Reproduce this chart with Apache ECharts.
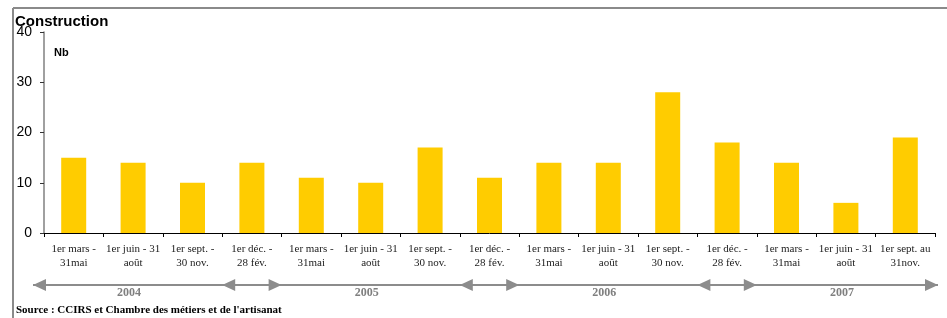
<!DOCTYPE html>
<html>
<head>
<meta charset="utf-8">
<script src="https://cdn.jsdelivr.net/npm/echarts@6/dist/echarts.min.js"></script>
<style>
  html, body { margin: 0; padding: 0; background: #fff; }
  #main { width: 947px; height: 318px; }
</style>
</head>
<body>
<div id="main"></div>
<script>
// périodes (trimestres) affichées sur l'axe
const categories = [
  '1er mars -\n31mai', '1er juin - 31\naoût', '1er sept. -\n30 nov.', '1er déc. -\n28 fév.',
  '1er mars -\n31mai', '1er juin - 31\naoût', '1er sept. -\n30 nov.', '1er déc. -\n28 fév.',
  '1er mars -\n31mai', '1er juin - 31\naoût', '1er sept. -\n30 nov.', '1er déc. -\n28 fév.',
  '1er mars -\n31mai', '1er juin - 31\naoût', '1er sept. au\n31nov.'
];
// nombre d'entreprises
const values = [15, 14, 10, 14, 11, 10, 17, 11, 14, 14, 28, 18, 14, 6, 19];
const yTicks = [0, 10, 20, 30, 40];
// années : première et dernière catégorie de chaque année
const years = ['2004', '2005', '2006', '2007'];
const yearFirst = [0, 4, 8, 12];
const yearLast = [2, 6, 10, 14];

const chart = echarts.init(document.getElementById('main'));

const option = {
  animation: false,
  backgroundColor: '#ffffff',
  title: {
    text: 'Construction',
    left: 10,
    top: 9,
    textStyle: { fontSize: 15, fontWeight: 'bold', fontFamily: 'Liberation Sans', color: '#000' }
  },
  grid: { left: 44, right: 12, top: 32, bottom: 85, containLabel: false },
  xAxis: {
    type: 'category',
    data: categories,
    axisLine: { lineStyle: { color: '#000', width: 1 } },
    axisTick: { show: true, length: 4, alignWithLabel: false, lineStyle: { color: '#000' } },
    axisLabel: {
      interval: 0,
      margin: 9,
      fontSize: 11,
      lineHeight: 14,
      fontFamily: 'Liberation Serif',
      color: '#222'
    }
  },
  yAxis: {
    type: 'value',
    min: yTicks[0],
    max: yTicks[yTicks.length - 1],
    interval: 10,
    splitLine: { show: false },
    axisLine: { show: true, lineStyle: { color: '#808080', width: 1.5 } },
    axisTick: { show: true, length: 4, lineStyle: { color: '#333' } },
    axisLabel: { margin: 12, fontSize: 14, fontFamily: 'Liberation Sans', color: '#000' }
  },
  series: [{
    type: 'bar',
    data: values,
    barWidth: 25,
    itemStyle: { color: '#FFCC00' }
  }]
};
chart.setOption(option);

// flèches des années sous l'axe, calées sur les catégories
function px(i) {
  return chart.convertToPixel({ xAxisIndex: 0 }, i);
}
const step = px(1) - px(0);
const arrowY = 285;
const arrowColor = '#8c8c8c';

function head(x, dir) {
  // dir : -1 pointe à gauche, 1 pointe à droite
  const w = 13, h = 6;
  return {
    type: 'polygon',
    shape: { points: [[x, arrowY], [x - dir * w, arrowY - h], [x - dir * w, arrowY + h]] },
    style: { fill: arrowColor }
  };
}

const leftEnd = px(0) - step / 2 - 11;
const rightEnd = px(categories.length - 1) + step / 2 + 3;
const elements = [
  { type: 'line', shape: { x1: leftEnd, y1: arrowY, x2: rightEnd, y2: arrowY }, style: { stroke: arrowColor, lineWidth: 2 } },
  head(leftEnd, -1),
  head(rightEnd, 1)
];
// segments des mois d'hiver entre deux années
for (let k = 0; k < years.length - 1; k++) {
  const a = px(yearLast[k]) + step / 2;
  const b = px(yearFirst[k + 1]) - step / 2;
  elements.push(head(a, -1), head(b, 1));
}
years.forEach(function (y, k) {
  const cx = (px(yearFirst[k]) + px(yearLast[k])) / 2 - 4;
  elements.push({
    type: 'text',
    x: cx, y: 293,
    style: {
      text: y, align: 'center', verticalAlign: 'middle',
      font: 'bold 12px "Liberation Serif"', fill: '#7f7f7f'
    }
  });
});
// cadre, unité et source
elements.push(
  { type: 'line', shape: { x1: 13, y1: 8, x2: 947, y2: 8 }, style: { stroke: '#8a8a8a', lineWidth: 2 } },
  { type: 'line', shape: { x1: 13, y1: 8, x2: 13, y2: 318 }, style: { stroke: '#8a8a8a', lineWidth: 2 } },
  { type: 'text', x: 54, y: 47, style: { text: 'Nb', font: 'bold 11px "Liberation Sans"', fill: '#000' } },
  {
    type: 'text', x: 16, y: 310,
    style: {
      text: "Source : CCIRS et Chambre des métiers et de l'artisanat",
      verticalAlign: 'middle', font: 'bold 11px "Liberation Serif"', fill: '#000'
    }
  }
);
chart.setOption({ graphic: { elements: elements } });
</script>
</body>
</html>
